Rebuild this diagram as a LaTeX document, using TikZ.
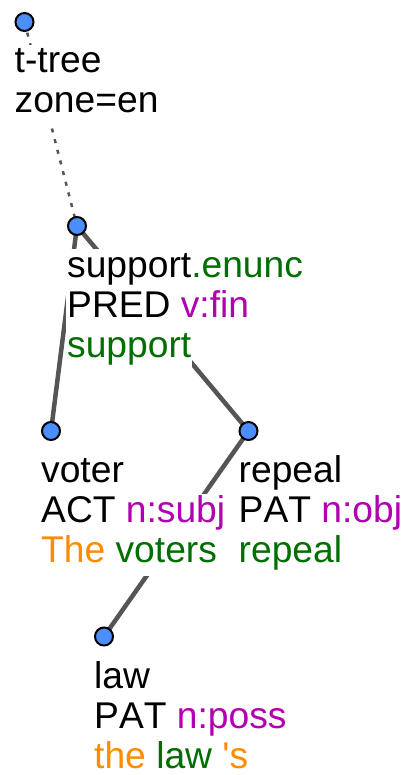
\documentclass[tikz,border=0pt]{standalone}
\usepackage{fontspec}
\newfontfamily\tredfont{Liberation Sans}[Kerning=Off]
\usetikzlibrary{backgrounds}
\definecolor{nodeblue}{RGB}{77,142,255}
\definecolor{edgegray}{RGB}{85,85,85}
\definecolor{funcmag}{RGB}{176,0,176}
\definecolor{lemgreen}{RGB}{0,110,0}
\definecolor{auxorange}{RGB}{255,140,0}
\begin{document}
\begin{tikzpicture}[x=1pt,y=-1pt,
  tnode/.style={circle,draw=black,line width=2pt,fill=nodeblue,minimum size=18pt,inner sep=0pt},
  tline/.style={anchor=base west,fill=white,inner xsep=1pt,inner ysep=0pt,
    text height=28pt,text depth=14pt,font=\tredfont\fontsize{37.2}{40}\selectfont},
  treeedge/.style={draw=edgegray,line width=4.5pt},
  coref/.style={draw=edgegray,line width=2.5pt,dash pattern=on 4pt off 7pt}]
\useasboundingbox (0,0) rectangle (409,775);
% tree nodes
\node[tnode] (root) at (24.5,22) {};
\node[tnode] (sup)  at (77,226) {};
\node[tnode] (vot)  at (51,431) {};
\node[tnode] (rep)  at (248.5,431) {};
\node[tnode] (law)  at (104,636.5) {};
% labels
\node[tline] (root1) at (13.5,73) {t-tree};
\node[tline] (root2) at (13.5,113) {zone=en};
\node[tline] (sup1) at (66,277) {support\textcolor{lemgreen}{.enunc}};
\node[tline] (sup2) at (66,317) {PRED \textcolor{funcmag}{v:fin}};
\node[tline] (sup3) at (66,357) {\textcolor{lemgreen}{support}};
\node[tline] (vot1) at (40,482) {voter};
\node[tline] (vot2) at (40,522) {ACT \textcolor{funcmag}{n:subj}};
\node[tline] (vot3) at (40,562) {\textcolor{auxorange}{The} \textcolor{lemgreen}{voters}};
\node[tline] (rep1) at (237.5,482) {repeal};
\node[tline] (rep2) at (237.5,522) {PAT \textcolor{funcmag}{n:obj}};
\node[tline] (rep3) at (237.5,562) {\textcolor{lemgreen}{repeal}};
\node[tline] (law1) at (93,688) {law};
\node[tline] (law2) at (93,728) {PAT \textcolor{funcmag}{n:poss}};
\node[tline] (law3) at (93,768) {\textcolor{auxorange}{the} \textcolor{lemgreen}{law} \textcolor{auxorange}{'s}};
% edges
\begin{scope}[on background layer]
\draw[coref] (root.center) -- (sup.center);
\draw[treeedge] (sup.center) -- (vot.center);
\draw[treeedge] (sup.center) -- (rep.center);
\draw[treeedge] (rep.center) -- (law.center);
\end{scope}
\end{tikzpicture}
\end{document}
